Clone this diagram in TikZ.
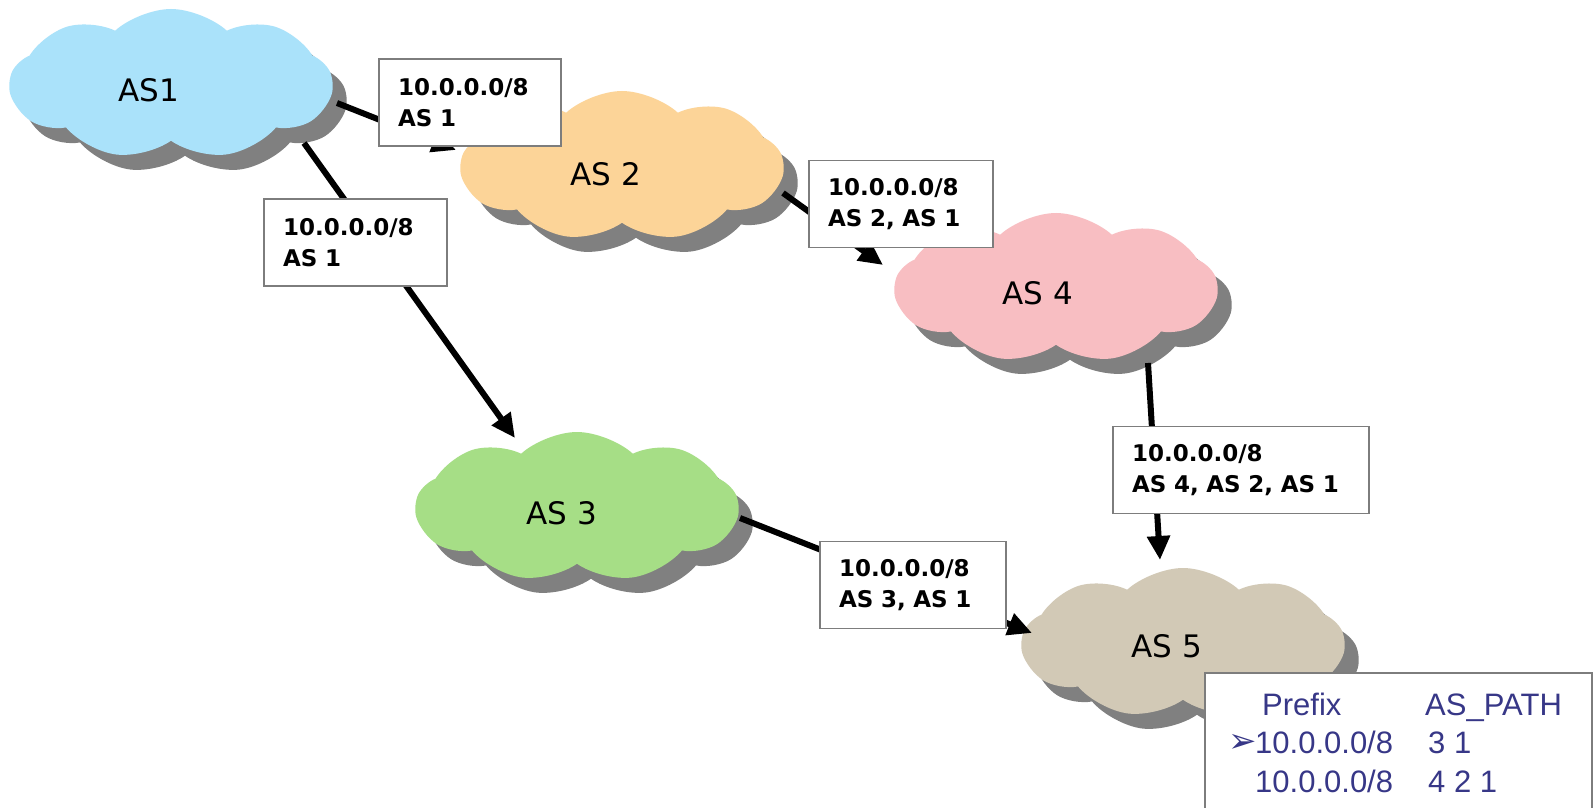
\documentclass[tikz,border=0pt]{standalone}
\usepackage{fontspec}
\setmainfont{DejaVu Sans}
\newfontfamily\boxfont{DejaVu Sans}
\newfontfamily\tabfont{Liberation Sans}
\newfontfamily\symfont{DejaVu Sans}
\usetikzlibrary{shapes.symbols,shadows,arrows.meta}
\definecolor{cOne}{RGB}{170,226,250}
\definecolor{cTwo}{RGB}{252,212,152}
\definecolor{cThree}{RGB}{166,222,134}
\definecolor{cFour}{RGB}{248,190,194}
\definecolor{cFive}{RGB}{210,201,182}
\definecolor{shgray}{RGB}{128,128,128}
\definecolor{boxgray}{RGB}{125,125,125}
\definecolor{navy}{RGB}{55,55,135}
\begin{document}
\begin{tikzpicture}[x=1pt,y=-1pt,
  ascloud/.style={cloud, cloud puffs=9, cloud puff arc=85, aspect=2.2,
    minimum width=322pt, minimum height=150pt, inner sep=0pt, draw=none,
    drop shadow={shadow xshift=14pt, shadow yshift=-15pt, fill=shgray, opacity=1}},
  aslabel/.style={font=\fontsize{31}{31}\selectfont, inner sep=0pt},
  conn/.style={line width=6pt, -{Triangle[length=24pt,width=22pt]}},
  pbox/.style={draw=boxgray, line width=1.5pt, fill=white, align=left,
    inner xsep=19pt, inner ysep=0pt, minimum height=87pt,
    font=\boxfont\bfseries\fontsize{23}{31}\selectfont},
  tabtxt/.style={font=\tabfont\fontsize{31}{31}\selectfont, text=navy, inner sep=0pt, anchor=base west},
  marker/.style={font=\symfont\fontsize{34}{34}\selectfont, text=navy, inner sep=0pt, anchor=base west},
  tabline/.style={draw=boxgray, line width=2pt}
  ]
\fill[white] (0,0) rectangle (1596,808);
\useasboundingbox (0,0) rectangle (1596,808);

% clouds
\node[ascloud, fill=cOne]   (AS1) at (171,84)   {};
\node[ascloud, fill=cTwo]   (AS2) at (622,166)  {};
\node[ascloud, fill=cFour]  (AS4) at (1056,288) {};
\node[ascloud, fill=cThree] (AS3) at (577,507)  {};
\node[ascloud, fill=cFive]  (AS5) at (1183,643) {};

\node[aslabel] (L1) at (149,90)    {AS1};
\node[aslabel] (L2) at (606,174)   {AS 2};
\node[aslabel] (L4) at (1038,293)  {AS 4};
\node[aslabel] (L3) at (562,513)   {AS 3};
\node[aslabel] (L5) at (1167,646)  {AS 5};

% connectors
\draw[conn] ([shift={(166,19)}]AS1.center) -- ([shift={(-166,-16)}]AS2.center);
\draw[conn] ([shift={(133,59)}]AS1.center) -- ([shift={(-62,-69)}]AS3.center);
\draw[conn] ([shift={(161,27)}]AS2.center) -- ([shift={(-173,-23)}]AS4.center);
\draw[conn] ([shift={(92,75)}]AS4.center) -- ([shift={(-23,-83)}]AS5.center);
\draw[conn] ([shift={(163,11)}]AS3.center) -- ([shift={(-151,-10)}]AS5.center);

% labels on connectors
\node[pbox, text width=144pt] (B1) at (470,102.5) {10.0.0.0/8\\AS 1};
\node[pbox, text width=145pt] (B2) at (355.5,242.5) {10.0.0.0/8\\AS 1};
\node[pbox, text width=146pt] (B3) at (901,204) {10.0.0.0/8\\AS 2, AS 1};
\node[pbox, text width=218pt] (B4) at (1241,470) {10.0.0.0/8\\AS 4, AS 2, AS 1};
\node[pbox, text width=148pt] (B5) at (913,585) {10.0.0.0/8\\AS 3, AS 1};

% table
\node[fill=white, inner sep=0pt, minimum width=387pt, minimum height=135pt, anchor=north west] (tbl) at (1205,673) {};
\draw[tabline] (tbl.south west) -- (tbl.north west) -- (tbl.north east) -- (tbl.south east);
\node[tabtxt] (h1) at (1262,715) {Prefix};
\node[tabtxt] (h2) at (1425,715) {AS\_PATH};
\node[marker] (mk) at (1228,752) {➢};
\node[tabtxt] (p1) at (1255,753) {10.0.0.0/8};
\node[tabtxt] (a1) at (1428,753) {3 1};
\node[tabtxt] (p2) at (1255,792) {10.0.0.0/8};
\node[tabtxt] (a2) at (1428,792) {4 2 1};
\end{tikzpicture}
\end{document}
